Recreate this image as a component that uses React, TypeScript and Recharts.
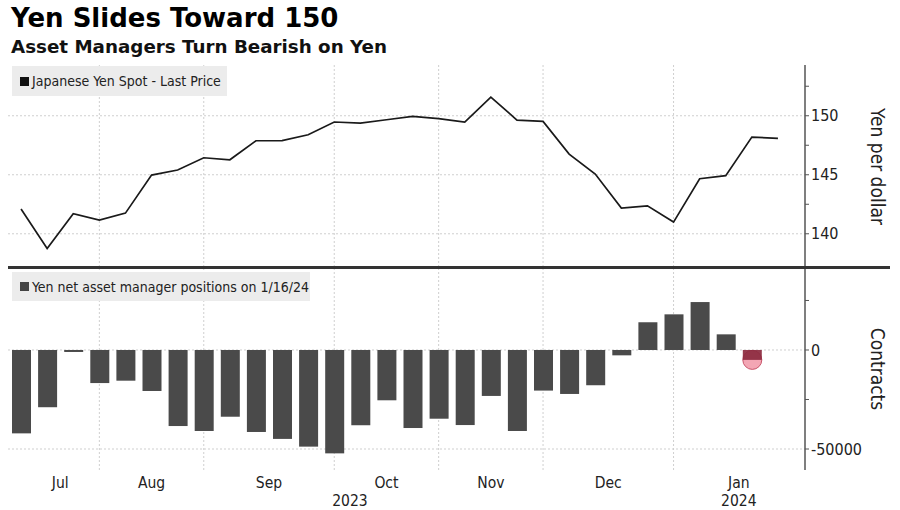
import React from 'react';
import {
  ComposedChart,
  Line,
  Bar,
  XAxis,
  YAxis,
  CartesianGrid,
} from 'recharts';

// ---- data ----
const weeks = [
  '2023-07-04', '2023-07-11', '2023-07-18', '2023-07-25', '2023-08-01', '2023-08-08',
  '2023-08-15', '2023-08-22', '2023-08-29', '2023-09-05', '2023-09-12', '2023-09-19',
  '2023-09-26', '2023-10-03', '2023-10-10', '2023-10-17', '2023-10-24', '2023-10-31',
  '2023-11-07', '2023-11-14', '2023-11-21', '2023-11-28', '2023-12-05', '2023-12-12',
  '2023-12-19', '2023-12-26', '2024-01-02', '2024-01-09', '2024-01-16', '2024-01-23',
];

const yenSpot = [
  142.1, 138.75, 141.7, 141.16, 141.75, 144.97, 145.4, 146.44, 146.27, 147.88,
  147.9, 148.39, 149.47, 149.38, 149.66, 149.94, 149.76, 149.47, 151.58, 149.63,
  149.52, 146.75, 145.06, 142.18, 142.37, 140.99, 144.66, 144.92, 148.19, 148.08,
];

const netPositions: (number | null)[] = [
  -42100, -28900, -1000, -16700, -15500, -20700, -38400, -40900, -33700, -41400,
  -44900, -48800, -52200, -38000, -25400, -39400, -34700, -37900, -23200, -40900,
  -20500, -22200, -17800, -2700, 14000, 18000, 24200, 7900, -5000, null,
];

// weeks at which the monthly grid lines fall
const monthGridWeeks = ['2023-07-25', '2023-08-22', '2023-09-26', '2023-10-24', '2023-11-21', '2023-12-26'];

// month labels (position in week-index units) and year labels
const monthLabels = ['Jul', 'Aug', 'Sep', 'Oct', 'Nov', 'Dec', 'Jan'];
const monthLabelPos = [1.5, 5, 9.5, 14, 18, 22.5, 27.5];
const yearLabels = ['2023', '2024'];
const yearLabelPos = [12.6, 27.5];

const spotTicks = [140, 142.5, 145, 147.5, 150, 152.5];
const spotMajor = [140, 145, 150];
const posTicks = [-50000, -25000, 0, 25000];
const posMajor = [-50000, 0];

const highlightWeek = '2024-01-16';

const data = weeks.map((w, i) => ({ week: w, idx: i, spot: yenSpot[i], pos: netPositions[i] }));
const labelTicks = Array.from(new Set([...monthLabelPos, ...yearLabelPos])).sort((a, b) => a - b);

// ---- styling ----
const FONT = '"DejaVu Sans Condensed", "Liberation Sans Narrow", "DejaVu Sans", sans-serif';
const TITLE_FONT = '"DejaVu Sans", Verdana, sans-serif';
const AXIS = '#555';
const GRID = '#cfcfcf';
const BAR = '#4a4a4a';

const W = 900;
const PAD_RIGHT = 14;

const RightTitle = (text: string) => (props: any) => {
  const vb = props.viewBox || {};
  const cx = vb.x + 73;
  const cy = vb.y + vb.height / 2;
  return (
    <text
      x={cx}
      y={cy}
      transform={`rotate(90, ${cx}, ${cy})`}
      textAnchor="middle"
      dominantBaseline="central"
      fontFamily={FONT}
      fontSize={19}
      fill="#222"
    >
      {text}
    </text>
  );
};

const TimeTick = (props: any) => {
  const { x, y, payload } = props;
  const v = payload?.value;
  const mi = monthLabelPos.indexOf(v);
  const yi = yearLabelPos.indexOf(v);
  return (
    <g>
      {mi >= 0 && (
        <text x={x} y={y - 12} textAnchor="middle" fontFamily={FONT} fontSize={15.5} fill="#222">
          {monthLabels[mi]}
        </text>
      )}
      {yi >= 0 && (
        <text x={x} y={y + 6} textAnchor="middle" fontFamily={FONT} fontSize={15.5} fill="#222">
          {yearLabels[yi]}
        </text>
      )}
    </g>
  );
};

const HighlightBar = (props: any) => {
  const { x, y, width, height, payload } = props;
  if (x == null || y == null || height == null) return null;
  const top = Math.min(y, y + height);
  const h = Math.abs(height);
  if (payload && payload.week === highlightWeek) {
    const endY = payload.pos < 0 ? top + h : top;
    return (
      <g>
        <circle cx={x + width / 2} cy={endY} r={9.5} fill="#f3a6b4" stroke="#c9566c" strokeWidth={1} />
        <rect x={x} y={top} width={width} height={h} fill="#8c2a3f" opacity={0.92} />
      </g>
    );
  }
  return <rect x={x} y={top} width={width} height={h} fill={BAR} />;
};

const legendBox: React.CSSProperties = {
  position: 'absolute',
  left: 12,
  background: '#ececec',
  display: 'flex',
  alignItems: 'center',
  fontSize: 14,
  color: '#222',
  whiteSpace: 'nowrap',
};

export default function App() {
  return (
    <div
      style={{
        position: 'absolute',
        left: 0,
        top: 0,
        width: W,
        height: 510,
        background: '#fff',
        overflow: 'hidden',
        fontFamily: FONT,
      }}
    >
      {/* titles */}
      <div
        style={{
          position: 'absolute',
          left: 11,
          top: 3,
          fontFamily: TITLE_FONT,
          fontWeight: 'bold',
          fontSize: 26,
          color: '#000',
          whiteSpace: 'nowrap',
        }}
      >
        Yen Slides Toward 150
      </div>
      <div
        style={{
          position: 'absolute',
          left: 11,
          top: 36,
          fontFamily: TITLE_FONT,
          fontWeight: 'bold',
          fontSize: 18.3,
          color: '#111',
          whiteSpace: 'nowrap',
        }}
      >
        Asset Managers Turn Bearish on Yen
      </div>

      {/* top panel: spot price */}
      <div style={{ position: 'absolute', left: 0, top: 60 }}>
        <ComposedChart width={W} height={208} data={data} margin={{ top: 5, right: 0, bottom: 0, left: 8 }}>
          <CartesianGrid
            stroke={GRID}
            strokeDasharray="2 2"
            horizontalValues={spotMajor}
            verticalValues={monthGridWeeks}
          />
          <XAxis dataKey="week" type="category" scale="band" hide padding={{ left: 0, right: PAD_RIGHT }} />
          <YAxis
            orientation="right"
            width={95}
            domain={[137.1, 154.3]}
            ticks={spotTicks}
            allowDataOverflow
            axisLine={{ stroke: AXIS, strokeWidth: 1.5 }}
            tickLine={{ stroke: AXIS }}
            tickSize={4}
            tickMargin={2}
            tick={{ fill: '#222', fontSize: 16, fontFamily: FONT }}
            tickFormatter={(v: number) => (spotMajor.includes(v) ? String(v) : '')}
            label={{ content: RightTitle('Yen per dollar') }}
          />
          <Line
            dataKey="spot"
            stroke="#1a1a1a"
            strokeWidth={1.7}
            dot={false}
            isAnimationActive={false}
          />
        </ComposedChart>
      </div>

      {/* bottom panel: positions */}
      <div style={{ position: 'absolute', left: 0, top: 268 }}>
        <ComposedChart width={W} height={242} data={data} margin={{ top: 0, right: 0, bottom: 0, left: 8 }}>
          <CartesianGrid
            stroke={GRID}
            strokeDasharray="2 2"
            horizontalValues={posMajor}
            verticalValues={monthGridWeeks}
          />
          <XAxis dataKey="week" type="category" hide padding={{ left: 0, right: PAD_RIGHT }} />
          <XAxis
            xAxisId="time"
            dataKey="idx"
            type="number"
            scale="linear"
            domain={[-0.5, 29.5]}
            ticks={labelTicks}
            allowDataOverflow
            padding={{ left: 0, right: PAD_RIGHT }}
            axisLine={false}
            tickLine={false}
            tickSize={0}
            tickMargin={0}
            height={40}
            interval={0}
            tick={<TimeTick />}
          />
          <YAxis
            orientation="right"
            width={95}
            domain={[-60600, 41400]}
            ticks={posTicks}
            allowDataOverflow
            axisLine={{ stroke: AXIS, strokeWidth: 1.5 }}
            tickLine={{ stroke: AXIS }}
            tickSize={4}
            tickMargin={2}
            tick={{ fill: '#222', fontSize: 16, fontFamily: FONT }}
            tickFormatter={(v: number) => (posMajor.includes(v) ? String(v) : '')}
            label={{ content: RightTitle('Contracts') }}
          />
          <Bar dataKey="pos" barSize={19} fill={BAR} shape={<HighlightBar />} isAnimationActive={false} />
        </ComposedChart>
      </div>

      {/* panel divider */}
      <div style={{ position: 'absolute', left: 8, top: 266, width: 882, height: 3, background: '#333' }} />

      {/* legends */}
      <div style={{ ...legendBox, top: 66, width: 215, height: 30 }}>
        <span style={{ display: 'inline-block', width: 9, height: 9, background: '#111', marginLeft: 8, marginRight: 3 }} />
        Japanese Yen Spot - Last Price
      </div>
      <div style={{ ...legendBox, top: 272, width: 298, height: 29 }}>
        <span style={{ display: 'inline-block', width: 9, height: 9, background: '#444', marginLeft: 8, marginRight: 3 }} />
        Yen net asset manager positions on 1/16/24
      </div>
    </div>
  );
}
